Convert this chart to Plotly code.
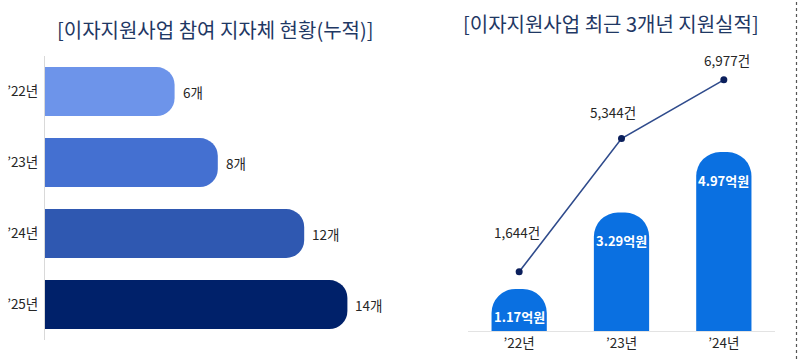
import plotly.graph_objects as go

# ---- data ----
left_years = ["’22년", "’23년", "’24년", "’25년"]
left_counts = [6, 8, 12, 14]
left_labels = ["6개", "8개", "12개", "14개"]

right_years = ["’22년", "’23년", "’24년"]
support_amount = [1.17, 3.29, 4.97]          # 억원
support_amount_labels = ["1.17억원", "3.29억원", "4.97억원"]
support_cases = [1644, 5344, 6977]           # 건
support_case_labels = ["1,644건", "5,344건", "6,977건"]

title_left = "[이자지원사업 참여 지자체 현황(누적)]"
title_right = "[이자지원사업 최근 3개년 지원실적]"

# ---- style ----
W, H = 800, 359
FONT = "Noto Sans CJK KR"
left_colors = ["#6D94EA", "#4470D1", "#2F58B1", "#00216A"]
bar_blue = "#0A70E1"
line_color = "#2F4B8C"
marker_color = "#0B1F5C"
title_color = "#1F3864"
text_color = "#262626"
case_label_shift = [(-2, 40), (-9, 27), (3, 20)]


def px_x(p):
    return p / W


def px_y(p):
    return (H - p) / H


fig = go.Figure()

fig.add_trace(go.Bar(
    y=left_years, x=left_counts, orientation="h",
    marker=dict(color=left_colors, cornerradius=18, line=dict(width=0)),
    width=0.69, xaxis="x", yaxis="y", hoverinfo="skip", showlegend=False,
))

fig.add_trace(go.Bar(
    x=right_years, y=support_amount,
    marker=dict(color=bar_blue, cornerradius=24, line=dict(width=0)),
    width=0.54, xaxis="x2", yaxis="y2", hoverinfo="skip", showlegend=False,
))

fig.add_trace(go.Scatter(
    x=right_years, y=support_cases, mode="lines+markers",
    line=dict(color=line_color, width=1.6),
    marker=dict(color=marker_color, size=7),
    xaxis="x2", yaxis="y3", hoverinfo="skip", showlegend=False,
))

annotations = []
for yr, v, lab in zip(left_years, left_counts, left_labels):
    annotations.append(dict(
        x=v, y=yr, xref="x", yref="y", text=lab, showarrow=False,
        xanchor="left", xshift=6, font=dict(family=FONT, size=13.5, color=text_color),
    ))
for yr, v, lab in zip(right_years, support_amount, support_amount_labels):
    annotations.append(dict(
        x=yr, y=v, xref="x2", yref="y2", text="<b>" + lab + "</b>", showarrow=False,
        yanchor="middle", yshift=-28, font=dict(family=FONT, size=13, color="white"),
    ))
for (yr, v, lab), (dx, dy) in zip(zip(right_years, support_cases, support_case_labels), case_label_shift):
    annotations.append(dict(
        x=yr, y=v, xref="x2", yref="y3", text=lab, showarrow=False,
        yanchor="middle", xshift=dx, yshift=dy,
        font=dict(family=FONT, size=13.5, color=text_color),
    ))
annotations.append(dict(
    x=px_x(215), y=px_y(29), xref="paper", yref="paper", text=title_left,
    showarrow=False, xanchor="center", yanchor="middle",
    font=dict(family=FONT, size=20, color=title_color),
))
annotations.append(dict(
    x=px_x(611), y=px_y(24), xref="paper", yref="paper", text=title_right,
    showarrow=False, xanchor="center", yanchor="middle",
    font=dict(family=FONT, size=20, color=title_color),
))

fig.update_layout(
    width=W, height=H, margin=dict(l=0, r=0, t=0, b=0),
    paper_bgcolor="white", plot_bgcolor="white",
    font=dict(family=FONT, size=13, color=text_color),
    showlegend=False,
    xaxis=dict(domain=[px_x(45), px_x(45 + 21.6 * 16)], range=[0, 16], anchor="y",
               showgrid=False, zeroline=False, showticklabels=False, showline=False),
    yaxis=dict(domain=[px_y(340), px_y(56)], anchor="x", autorange="reversed",
               categoryorder="array", categoryarray=left_years,
               showgrid=False, zeroline=False, showline=True, linecolor="#D9D9D9", linewidth=1,
               ticks="", ticklabelstandoff=3, tickfont=dict(family=FONT, size=13.5, color=text_color)),
    xaxis2=dict(domain=[px_x(468), px_x(775)], anchor="y2",
                showgrid=False, zeroline=False, showline=True, linecolor="#E3E3E3", linewidth=1,
                ticks="", tickfont=dict(family=FONT, size=13.5, color=text_color)),
    yaxis2=dict(domain=[px_y(331), px_y(43)], anchor="x2", range=[0, 8],
                showgrid=False, zeroline=False, showticklabels=False, showline=False),
    yaxis3=dict(overlaying="y2", anchor="x2", side="right", range=[0, 8000],
                showgrid=False, zeroline=False, showticklabels=False, showline=False),
    annotations=annotations,
    shapes=[dict(type="line", xref="paper", yref="paper", x0=px_x(796.5), x1=px_x(796.5),
                 y0=0, y1=1, line=dict(color="#555555", width=1.2, dash="dot"))],
)

fig.write_html("out.html", config={"displayModeBar": False},
               post_script="document.body.style.margin='0';document.body.style.overflow='hidden';")
